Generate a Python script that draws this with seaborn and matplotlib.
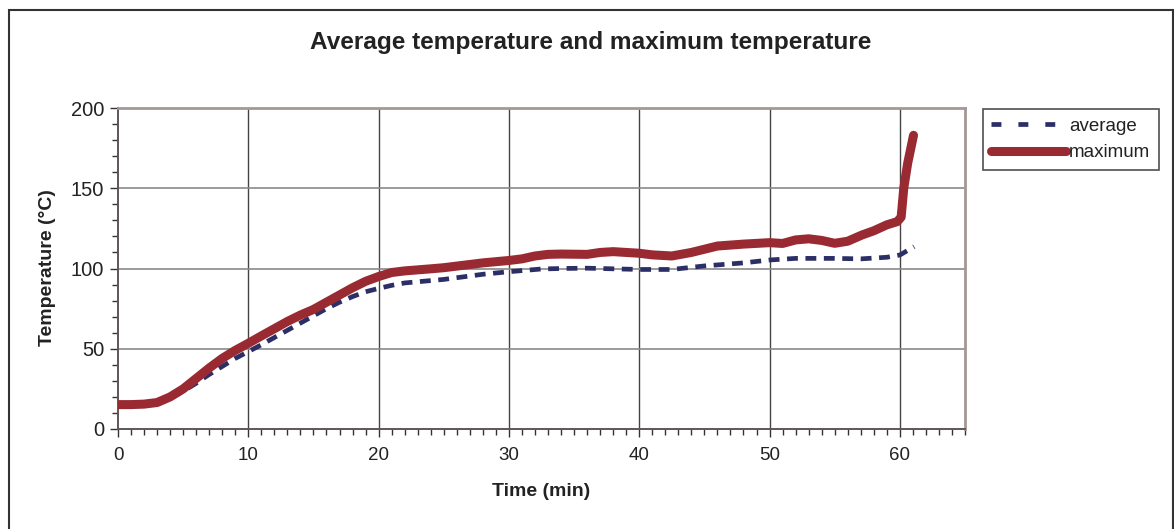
import numpy as np
import pandas as pd
import matplotlib
matplotlib.use("Agg")
import matplotlib.pyplot as plt
from matplotlib.patches import Rectangle
from matplotlib.ticker import MultipleLocator
import seaborn as sns

# ---- data ----
max_time = [0, 1, 2, 3, 4, 5, 6, 7, 8, 9, 10, 11, 12, 13, 14, 15, 16, 17, 18, 19,
            20, 21, 22, 24, 25, 26, 28, 30, 31, 32, 33, 34, 36, 37, 38, 40, 41,
            42.5, 44, 46, 48, 50, 51, 52, 53, 54, 55, 56, 57.1, 58, 59, 59.8,
            60.1, 60.3, 60.6, 61.05]
max_temp = [15.2, 15.2, 15.5, 16.5, 20, 25, 31.5, 38, 44, 49, 53.4, 58, 62.5, 67,
            71, 74.5, 79, 83.5, 88, 92, 95, 97.5, 98.5, 99.8, 100.5, 101.5, 103.5,
            105, 106, 107.8, 108.8, 109, 108.8, 110, 110.5, 109.5, 108.5, 107.8,
            110, 114, 115.2, 116.1, 115.6, 117.8, 118.5, 117.5, 115.7, 117, 120.9,
            123.5, 127.2, 129.2, 132, 150, 165.5, 183]

avg_time = [0, 2, 3, 4, 5, 6, 7, 8, 9, 10, 11, 12, 13, 14, 15, 16, 17, 18, 19, 20,
            21, 22, 25, 28, 30, 32.5, 34, 36, 38, 40, 42.5, 45, 48, 50, 52, 55, 57,
            59, 60, 61.1]
avg_temp = [15, 15.2, 16, 19, 23.5, 28.5, 34, 39, 44, 48.2, 52.5, 57, 61.5, 66,
            70.5, 75, 79, 82.5, 85.5, 87.6, 89.5, 91, 93.2, 96.4, 98, 99.7, 100,
            100.2, 99.8, 99.4, 99.4, 101.6, 103.5, 105.3, 106.3, 106.3, 106, 107,
            108.4, 113.6]

series_labels = ["average", "maximum"]
title = "Average temperature and maximum temperature"
x_label = "Time (min)"
y_label = "Temperature (°C)"

# ---- style ----
sns.set_theme(style="white")
plt.rcParams["font.family"] = ["Liberation Sans", "DejaVu Sans"]

W, H = 1174, 529
fig = plt.figure(figsize=(W / 100, H / 100), dpi=100)
ax = fig.add_axes([118 / W, 1 - 429 / H, (965 - 118) / W, (429 - 108) / H])

blue = "#2c2f66"
red = "#9a2a32"

avg_df = pd.DataFrame({"t": avg_time, "v": avg_temp})
max_df = pd.DataFrame({"t": max_time, "v": max_temp})

sns.lineplot(data=avg_df, x="t", y="v", ax=ax, color=blue, linewidth=3.4,
             sort=False, estimator=None, label=series_labels[0],
             linestyle=(0, (2.3, 1.6)), zorder=3)
sns.lineplot(data=max_df, x="t", y="v", ax=ax, color=red, linewidth=6.5,
             sort=False, estimator=None, label=series_labels[1],
             solid_capstyle="round", solid_joinstyle="round", zorder=4)

ax.set_xlim(0, 65)
ax.set_ylim(0, 200)
ax.xaxis.set_major_locator(MultipleLocator(10))
ax.xaxis.set_minor_locator(MultipleLocator(1))
ax.yaxis.set_major_locator(MultipleLocator(50))
ax.yaxis.set_minor_locator(MultipleLocator(10))

ax.grid(False)
for xv in range(10, 65, 10):
    ax.axvline(xv, color="#444444", linewidth=1.0, zorder=1)
for yv in (50, 100, 150):
    ax.axhline(yv, color="#8a8a8a", linewidth=1.2, zorder=1)

for s in ("left", "bottom"):
    ax.spines[s].set_color("#5e5654")
    ax.spines[s].set_linewidth(1.4)
for s in ("top", "right"):
    ax.spines[s].set_color("#a39896")
    ax.spines[s].set_linewidth(2.0)

ax.tick_params(axis="both", which="both", direction="out", colors="#333333",
               labelcolor="#222222", bottom=True, left=True, top=False, right=False)
ax.tick_params(axis="both", which="major", length=6, width=1.0)
ax.tick_params(axis="both", which="minor", length=4, width=1.0)
ax.tick_params(axis="x", which="major", labelsize=13.5, pad=7)
ax.tick_params(axis="y", which="major", labelsize=14.5, pad=4)

ax.set_xlabel("")
ax.set_ylabel("")
fig.text(541 / W, 1 - 492 / H, x_label, ha="center", va="center",
         fontsize=14, fontweight="bold", color="#222222")
fig.text(48 / W, 1 - 268 / H, y_label, ha="center", va="center",
         rotation=90, fontsize=14, fontweight="bold", color="#222222")
fig.text(591 / W, 1 - 42 / H, title, ha="center", va="center",
         fontsize=17.6, fontweight="bold", color="#222222")

leg = ax.legend(loc="upper left", bbox_to_anchor=(983 / W, 1 - 109 / H),
                bbox_transform=fig.transFigure, frameon=True, fancybox=False,
                fontsize=13.5, handlelength=4.0, handletextpad=0.15,
                borderpad=0.45, labelspacing=0.5, borderaxespad=0)
leg.get_frame().set_edgecolor("#222222")
leg.get_frame().set_linewidth(1.2)
for txt in leg.get_texts():
    txt.set_color("#222222")
leg.get_lines()[0].set_linestyle((0, (2.1, 3.6)))

fig.patches.append(Rectangle((8.5 / W, -0.02), (1172.5 - 8.5) / W, 1.02 - 9.5 / H,
                             transform=fig.transFigure, fill=False,
                             edgecolor="#333333", linewidth=1.5))

fig.savefig("out.png", dpi=100, facecolor="white")
